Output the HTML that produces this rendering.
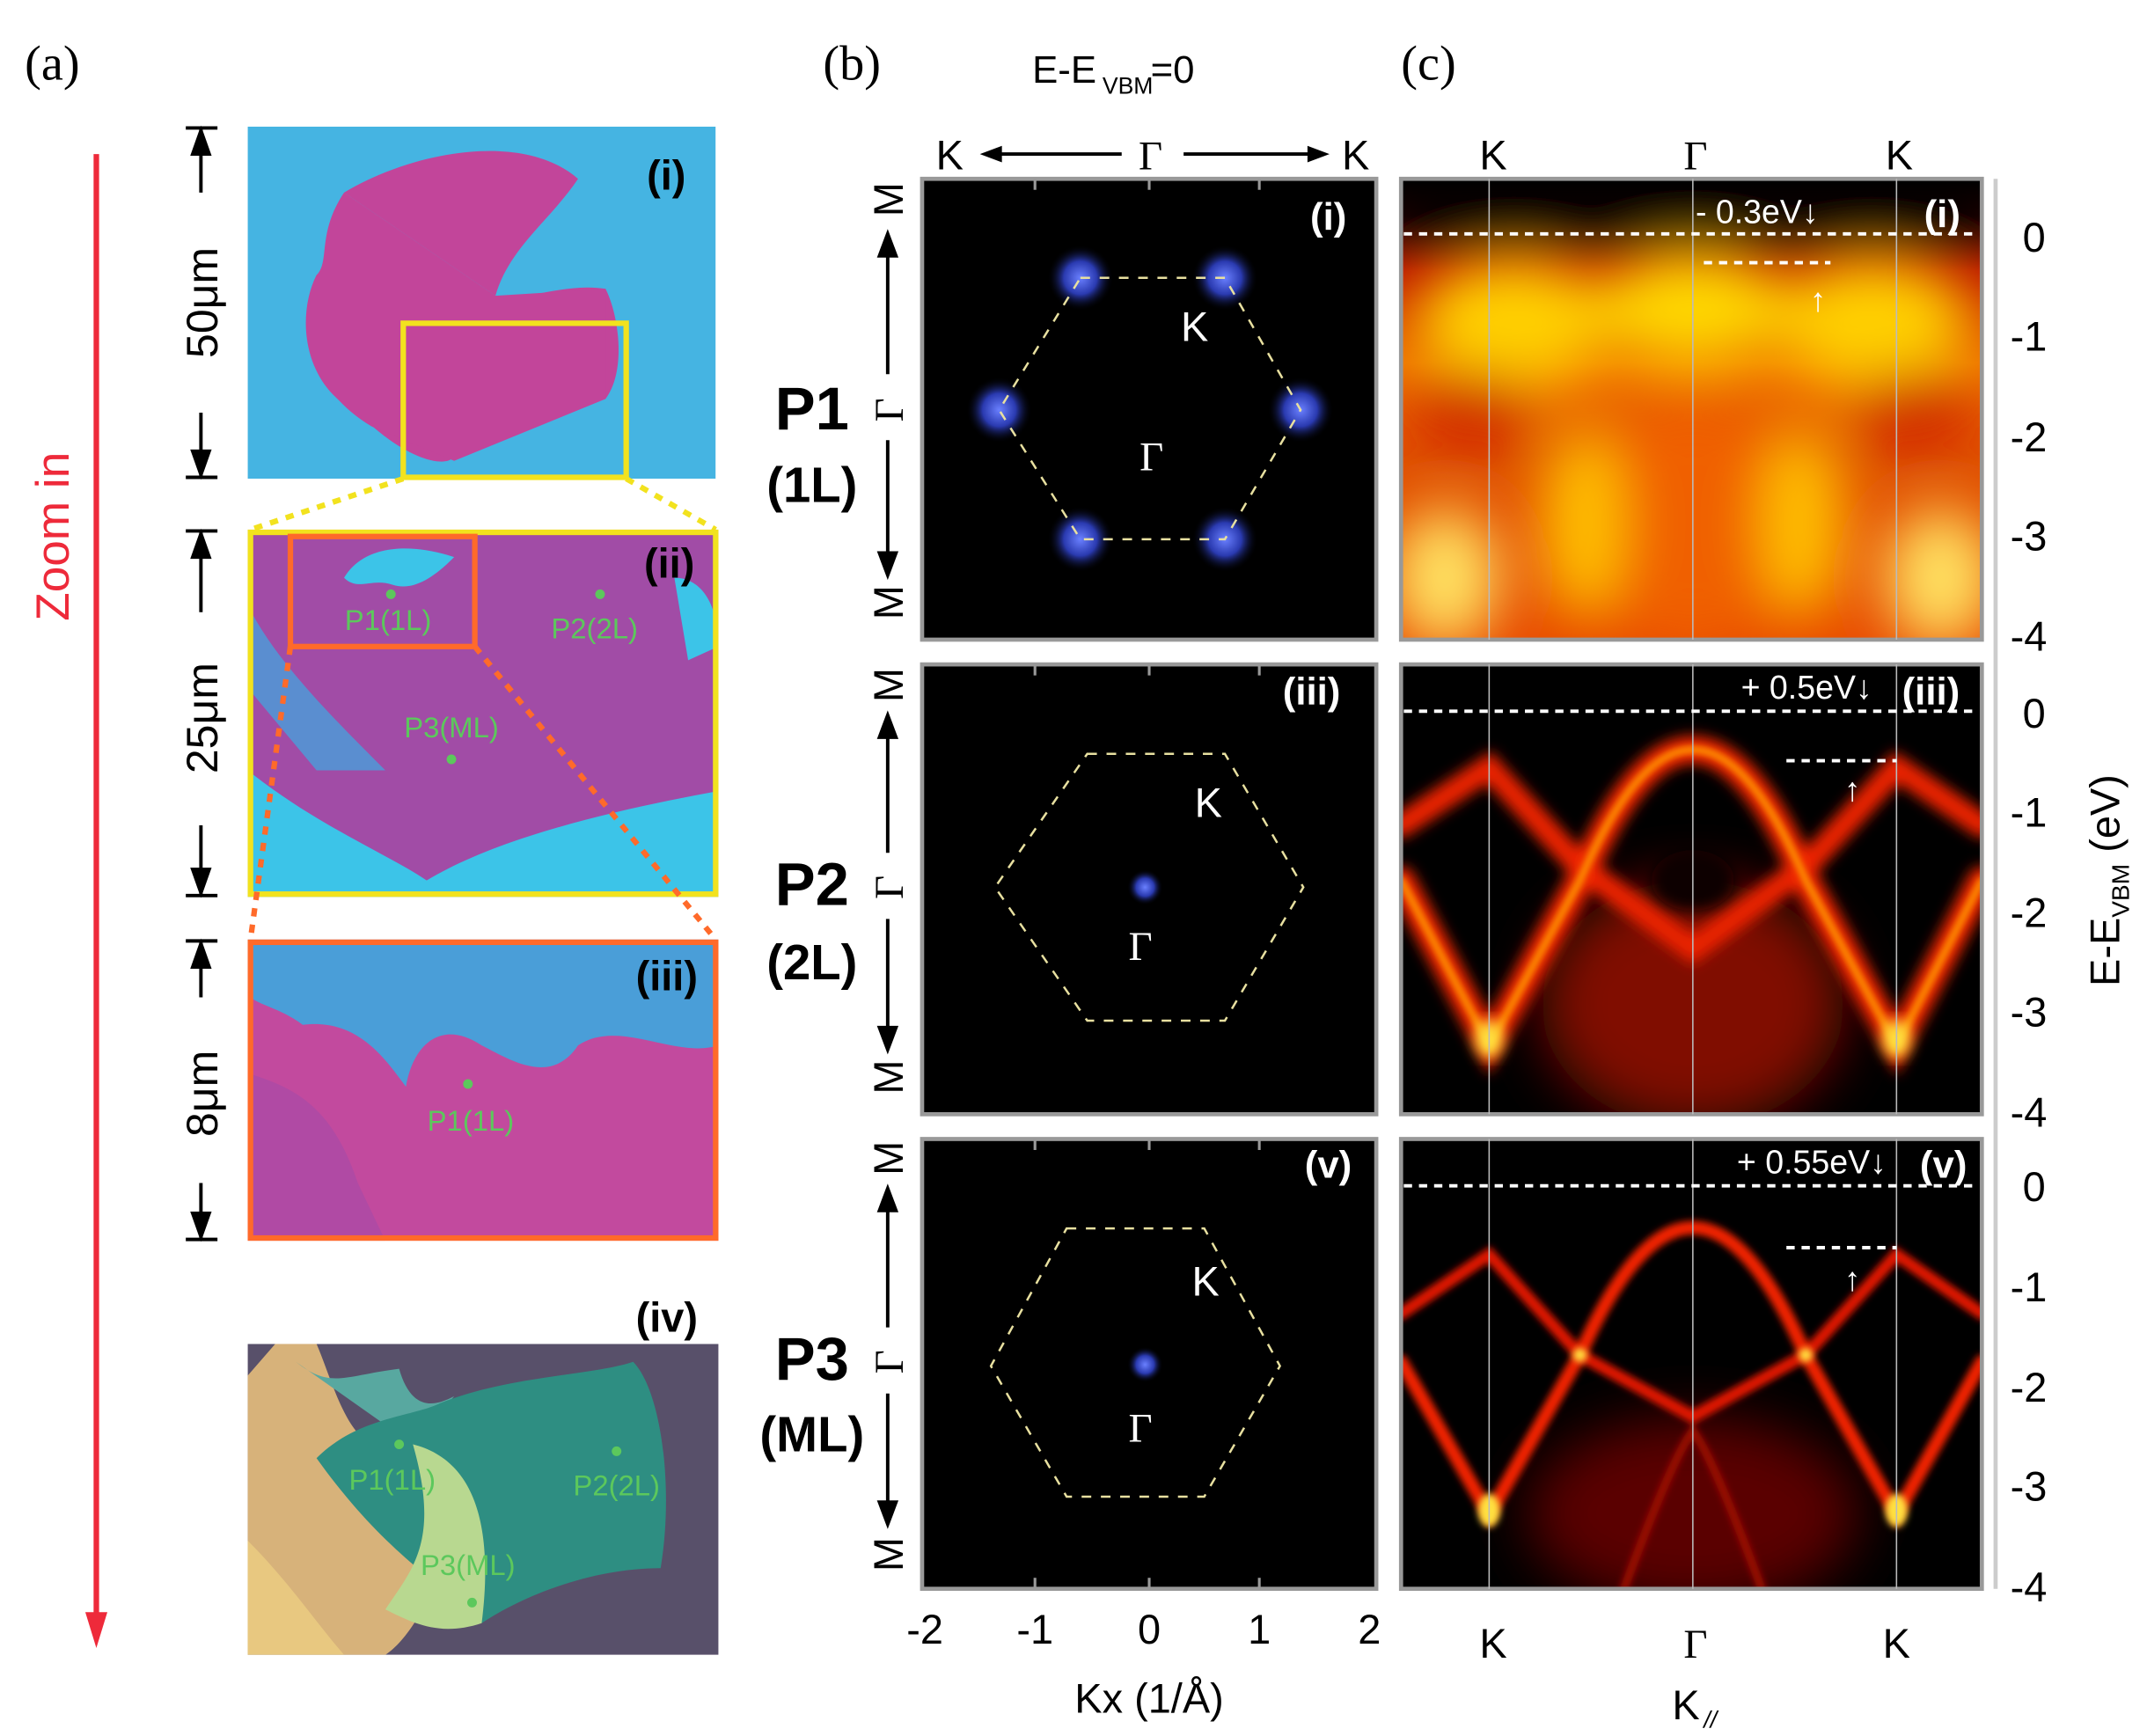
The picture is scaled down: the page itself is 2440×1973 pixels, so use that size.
<!DOCTYPE html>
<html><head><meta charset="utf-8"><style>
html,body{margin:0;padding:0;background:#fff;}
svg{display:block;font-family:"Liberation Sans",sans-serif;}
</style></head><body>
<svg width="2440" height="1973" viewBox="0 0 1560 1262" preserveAspectRatio="none" xmlns="http://www.w3.org/2000/svg">
<defs>
<filter id="b2" x="-20%" y="-20%" width="140%" height="140%"><feGaussianBlur stdDeviation="2.5"/></filter>
<filter id="b4" x="-20%" y="-20%" width="140%" height="140%"><feGaussianBlur stdDeviation="5"/></filter>
<filter id="b10" x="-30%" y="-30%" width="160%" height="160%"><feGaussianBlur stdDeviation="12"/></filter>
<filter id="b20" x="-30%" y="-30%" width="160%" height="160%"><feGaussianBlur stdDeviation="20"/></filter>
<radialGradient id="bd"><stop offset="0" stop-color="#6a80ff"/><stop offset="0.5" stop-color="#2a3ab0"/><stop offset="1" stop-color="#000" stop-opacity="0"/></radialGradient>
<linearGradient id="c1" x1="0" y1="0" x2="0" y2="1"><stop offset="0" stop-color="#000"/><stop offset="0.08" stop-color="#200"/><stop offset="0.2" stop-color="#c01800"/><stop offset="0.4" stop-color="#f07000"/><stop offset="0.6" stop-color="#e05000"/><stop offset="1" stop-color="#e84a00"/></linearGradient>
<clipPath id="cp1"><rect x="1018" y="130" width="422" height="335"/></clipPath>
<clipPath id="cp2"><rect x="1018" y="483" width="422" height="327"/></clipPath>
<clipPath id="cp3"><rect x="1018" y="828" width="422" height="327"/></clipPath>
<clipPath id="ci"><rect x="180" y="92" width="340" height="256"/></clipPath>
<clipPath id="cii"><rect x="180" y="385" width="342" height="267"/></clipPath>
<clipPath id="ciii"><rect x="180" y="683" width="342" height="219"/></clipPath>
<clipPath id="civ"><rect x="180" y="977" width="342" height="226"/></clipPath>
</defs>

<!-- (a) -->
<text x="18" y="58" font-family="Liberation Serif, serif" font-size="36">(a)</text>
<line x1="70" y1="112" x2="70" y2="1180" stroke="#ee2a3a" stroke-width="4"/>
<polygon points="62,1172 78,1172 70,1198" fill="#ee2a3a"/>
<text transform="translate(50,390) rotate(-90)" text-anchor="middle" font-size="34" fill="#ee2a3a">Zoom in</text>

<!-- scale bars -->
<g stroke="#000" stroke-width="2.5" fill="#000">
<line x1="135" y1="93" x2="158" y2="93"/><line x1="135" y1="347" x2="158" y2="347"/>
<line x1="146" y1="93" x2="146" y2="140"/><polygon points="140,112 152,112 146,95"/>
<line x1="146" y1="300" x2="146" y2="347"/><polygon points="140,328 152,328 146,345"/>
<line x1="135" y1="386" x2="158" y2="386"/><line x1="135" y1="651" x2="158" y2="651"/>
<line x1="146" y1="386" x2="146" y2="445"/><polygon points="140,405 152,405 146,388"/>
<line x1="146" y1="600" x2="146" y2="651"/><polygon points="140,632 152,632 146,649"/>
<line x1="135" y1="684" x2="158" y2="684"/><line x1="135" y1="901" x2="158" y2="901"/>
<line x1="146" y1="684" x2="146" y2="725"/><polygon points="140,703 152,703 146,686"/>
<line x1="146" y1="860" x2="146" y2="901"/><polygon points="140,882 152,882 146,899"/>
</g>
<text transform="translate(158,220) rotate(-90)" text-anchor="middle" font-size="32">50μm</text>
<text transform="translate(158,522) rotate(-90)" text-anchor="middle" font-size="32">25μm</text>
<text transform="translate(158,795) rotate(-90)" text-anchor="middle" font-size="32">8μm</text>

<!-- panel i -->
<g clip-path="url(#ci)">
<rect x="180" y="92" width="340" height="256" fill="#45b4e2"/>
<path d="M250,140 C300,110 380,95 420,130 C400,160 370,180 360,215 C345,230 310,215 300,240 C285,210 265,195 230,200 C215,230 220,280 260,300 C300,340 330,340 330,330 C360,320 400,300 440,290 C455,270 450,230 440,210 C410,205 380,220 360,215" fill="#c2459a"/>
<path d="M250,140 C230,170 240,190 230,200 C215,230 220,280 270,310 L330,335 L440,290 L440,210 L360,215 Z" fill="#c2459a"/>
</g>
<text x="470" y="138" font-size="30" font-weight="bold">(i)</text>
<rect x="293" y="235" width="162" height="112" fill="none" stroke="#f2e21e" stroke-width="4"/>
<g stroke="#f2e21e" stroke-width="4" stroke-dasharray="6,6"><line x1="293" y1="348" x2="182" y2="385"/><line x1="455" y1="348" x2="520" y2="385"/></g>

<!-- panel ii -->
<g clip-path="url(#cii)">
<rect x="180" y="385" width="342" height="267" fill="#a14ca6"/>
<path d="M180,560 C230,600 280,620 310,640 C360,610 440,590 522,575 L522,652 L180,652 Z" fill="#3cc4e8"/>
<path d="M180,440 C200,480 240,520 280,560 L230,560 L180,500Z" fill="#5a8ed0"/>
<path d="M250,420 C265,395 300,395 330,405 C315,420 300,430 285,425 C270,420 260,430 250,420Z" fill="#3cc4e8"/>
<path d="M490,420 C510,420 522,440 522,470 L500,480 Z" fill="#3cc4e8"/>
</g>
<rect x="182" y="387" width="338" height="263" fill="none" stroke="#f2e21e" stroke-width="4"/>
<rect x="211" y="390" width="134" height="80" fill="none" stroke="#ff6a2a" stroke-width="4"/>
<g fill="#5cc85c"><circle cx="284" cy="432" r="3.5"/><circle cx="436" cy="432" r="3.5"/><circle cx="328" cy="552" r="3.5"/></g>
<g fill="#5cc85c" font-size="21" text-anchor="middle"><text x="282" y="458">P1(1L)</text><text x="432" y="464">P2(2L)</text><text x="328" y="536">P3(ML)</text></g>
<text x="468" y="420" font-size="30" font-weight="bold">(ii)</text>
<g stroke="#ff6a2a" stroke-width="4" stroke-dasharray="6,6"><line x1="211" y1="470" x2="182" y2="683"/><line x1="345" y1="470" x2="520" y2="683"/></g>

<!-- panel iii -->
<g clip-path="url(#ciii)">
<rect x="180" y="683" width="342" height="219" fill="#c24a9e"/>
<path d="M180,683 L522,683 L522,760 C490,770 450,740 420,760 C400,790 370,770 350,760 C320,740 300,760 295,790 C280,770 260,740 220,745 C200,730 180,730 180,720Z" fill="#4a9ed8"/>
<path d="M180,780 C210,790 240,800 260,860 L280,902 L180,902Z" fill="#b04aa4"/>
</g>
<rect x="182" y="685" width="338" height="215" fill="none" stroke="#ff6a2a" stroke-width="4"/>
<circle cx="340" cy="788" r="3.5" fill="#5cc85c"/>
<text x="342" y="822" font-size="21" fill="#5cc85c" text-anchor="middle">P1(1L)</text>
<text x="462" y="720" font-size="30" font-weight="bold">(iii)</text>

<!-- panel iv -->
<text x="462" y="968" font-size="30" font-weight="bold">(iv)</text>
<g clip-path="url(#civ)">
<rect x="180" y="977" width="342" height="226" fill="#58506a"/>
<path d="M180,1000 L200,977 L230,977 C240,1000 250,1040 270,1050 C290,1070 310,1090 330,1110 C320,1150 300,1190 280,1203 L180,1203Z" fill="#d7b27a"/>
<path d="M215,990 C240,1010 250,1000 290,995 C300,1030 320,1020 330,1015 L300,1050Z" fill="#58a8a0"/>
<path d="M230,1060 C260,1030 300,1030 320,1020 C370,1000 430,1000 460,990 C480,1010 490,1080 480,1140 C430,1140 380,1160 350,1180 C320,1150 280,1130 230,1060Z" fill="#2e8e82"/>
<path d="M300,1050 C340,1060 360,1100 350,1180 C320,1190 300,1180 280,1170 C300,1140 320,1120 300,1050Z" fill="#b8d890"/>
<path d="M180,1120 C210,1150 230,1180 250,1203 L180,1203Z" fill="#e8c880"/>
</g>
<g fill="#5cc85c"><circle cx="290" cy="1050" r="3.5"/><circle cx="448" cy="1055" r="3.5"/><circle cx="343" cy="1165" r="3.5"/></g>
<g fill="#5cc85c" font-size="21" text-anchor="middle"><text x="285" y="1083">P1(1L)</text><text x="448" y="1087">P2(2L)</text><text x="340" y="1145">P3(ML)</text></g>

<!-- (b) -->
<text x="598" y="58" font-family="Liberation Serif, serif" font-size="36">(b)</text>
<text x="750" y="60" font-size="28">E-E</text><text x="801" y="68" font-size="17">VBM</text><text x="836" y="60" font-size="28">=0</text>
<text x="690" y="123" font-size="30" text-anchor="middle">K</text>
<text x="836" y="123" font-size="30" text-anchor="middle" font-family="Liberation Serif, serif">Γ</text>
<text x="985" y="123" font-size="30" text-anchor="middle">K</text>
<g stroke="#000" stroke-width="2.5"><line x1="718" y1="112" x2="815" y2="112"/><line x1="860" y1="112" x2="960" y2="112"/></g>
<polygon points="712,112 728,106 728,118" fill="#000"/><polygon points="966,112 950,106 950,118" fill="#000"/>

<g font-size="44" font-weight="bold" text-anchor="middle">
<text x="590" y="312">P1</text><text x="590" y="658">P2</text><text x="590" y="1003">P3</text></g>
<g font-size="36" font-weight="bold" text-anchor="middle">
<text x="590" y="365">(1L)</text><text x="590" y="712">(2L)</text><text x="590" y="1055">(ML)</text></g>

<!-- b side labels -->
<g font-size="30">
<text transform="translate(656,145) rotate(-90)" text-anchor="middle">M</text>
<text transform="translate(656,438) rotate(-90)" text-anchor="middle">M</text>
<text transform="translate(656,498) rotate(-90)" text-anchor="middle">M</text>
<text transform="translate(656,783) rotate(-90)" text-anchor="middle">M</text>
<text transform="translate(656,842) rotate(-90)" text-anchor="middle">M</text>
<text transform="translate(656,1130) rotate(-90)" text-anchor="middle">M</text>
</g>
<g font-size="30" font-family="Liberation Serif, serif">
<text transform="translate(656,298) rotate(-90)" text-anchor="middle">Γ</text>
<text transform="translate(656,645) rotate(-90)" text-anchor="middle">Γ</text>
<text transform="translate(656,990) rotate(-90)" text-anchor="middle">Γ</text>
</g>
<g stroke="#000" stroke-width="2.5" fill="#000">
<line x1="645" y1="178" x2="645" y2="272"/><polygon points="639,186 651,186 645,170"/>
<line x1="645" y1="320" x2="645" y2="410"/><polygon points="639,402 651,402 645,418"/>
<line x1="645" y1="528" x2="645" y2="620"/><polygon points="639,536 651,536 645,520"/>
<line x1="645" y1="668" x2="645" y2="755"/><polygon points="639,747 651,747 645,763"/>
<line x1="645" y1="872" x2="645" y2="965"/><polygon points="639,880 651,880 645,864"/>
<line x1="645" y1="1013" x2="645" y2="1100"/><polygon points="639,1092 651,1092 645,1108"/>
</g>

<!-- b panels -->
<g>
<rect x="670" y="130" width="330" height="335" fill="#000" stroke="#999" stroke-width="3"/>
<rect x="670" y="483" width="330" height="327" fill="#000" stroke="#999" stroke-width="3"/>
<rect x="670" y="828" width="330" height="327" fill="#000" stroke="#999" stroke-width="3"/>
</g>
<g fill="url(#bd)">
<circle cx="785" cy="202" r="24"/><circle cx="890" cy="202" r="24"/><circle cx="945" cy="298" r="24"/>
<circle cx="890" cy="392" r="24"/><circle cx="785" cy="392" r="24"/><circle cx="726" cy="298" r="24"/>
<circle cx="832" cy="645" r="13"/><circle cx="832" cy="992" r="13"/>
</g>
<g fill="none" stroke="#e8e0a0" stroke-width="1.6" stroke-dasharray="7,7">
<polygon points="785,202 890,202 945,298 890,392 785,392 726,298"/>
<polygon points="790,548 890,548 947,645 890,742 790,742 723,645"/>
<polygon points="775,893 875,893 930,993 875,1088 775,1088 720,993"/>
</g>
<g fill="#fff" font-size="30">
<text x="858" y="248">K</text><text x="828" y="342" font-family="Liberation Serif, serif">Γ</text>
<text x="868" y="594">K</text><text x="820" y="698" font-family="Liberation Serif, serif">Γ</text>
<text x="866" y="942">K</text><text x="820" y="1048" font-family="Liberation Serif, serif">Γ</text>
<g font-weight="bold" font-size="28"><text x="952" y="167">(i)</text><text x="932" y="512">(iii)</text><text x="948" y="856">(v)</text></g>
</g>
<!-- ticks b -->
<g stroke="#999" stroke-width="2">
<line x1="752" y1="130" x2="752" y2="138"/><line x1="835" y1="130" x2="835" y2="138"/><line x1="915" y1="130" x2="915" y2="138"/>
<line x1="752" y1="483" x2="752" y2="491"/><line x1="835" y1="483" x2="835" y2="491"/><line x1="915" y1="483" x2="915" y2="491"/>
<line x1="752" y1="828" x2="752" y2="836"/><line x1="835" y1="828" x2="835" y2="836"/><line x1="915" y1="828" x2="915" y2="836"/>
<line x1="752" y1="1147" x2="752" y2="1155"/><line x1="835" y1="1147" x2="835" y2="1155"/><line x1="915" y1="1147" x2="915" y2="1155"/>
</g>
<g font-size="30" text-anchor="middle">
<text x="672" y="1195">-2</text><text x="752" y="1195">-1</text><text x="835" y="1195">0</text><text x="915" y="1195">1</text><text x="995" y="1195">2</text>
<text x="835" y="1245">Kx (1/Å)</text>
</g>

<!-- (c) -->
<text x="1018" y="58" font-family="Liberation Serif, serif" font-size="36">(c)</text>
<g font-size="30" text-anchor="middle">
<text x="1085" y="123">K</text><text x="1232" y="123" font-family="Liberation Serif, serif">Γ</text><text x="1380" y="123">K</text>
<text x="1085" y="1205">K</text><text x="1232" y="1205" font-family="Liberation Serif, serif">Γ</text><text x="1378" y="1205">K</text>
<text x="1225" y="1250">K</text>
</g>
<text x="1238" y="1256" font-size="17" font-style="italic">//</text>

<!-- c(i) -->
<g clip-path="url(#cp1)">
<rect x="1018" y="130" width="422" height="335" fill="url(#c1)"/>
<g filter="url(#b20)">
<ellipse cx="1100" cy="235" rx="70" ry="45" fill="#ffd000"/>
<ellipse cx="1230" cy="225" rx="70" ry="40" fill="#ffd800"/>
<ellipse cx="1360" cy="235" rx="70" ry="45" fill="#ffd000"/>
<ellipse cx="1070" cy="300" rx="45" ry="30" fill="#d02800"/>
<ellipse cx="1390" cy="300" rx="45" ry="30" fill="#d02800"/>
<ellipse cx="1230" cy="380" rx="80" ry="90" fill="#f06000"/>
<ellipse cx="1050" cy="420" rx="40" ry="50" fill="#ffe060"/>
<ellipse cx="1410" cy="420" rx="40" ry="50" fill="#ffe060"/>
<ellipse cx="1150" cy="380" rx="30" ry="70" fill="#ffc000"/>
<ellipse cx="1310" cy="380" rx="30" ry="70" fill="#ffc000"/>
<rect x="1018" y="130" width="422" height="40" fill="#000"/>
</g>
</g>
<rect x="1018" y="130" width="422" height="335" fill="none" stroke="#999" stroke-width="3"/>

<!-- c(iii) -->
<g clip-path="url(#cp2)">
<rect x="1018" y="483" width="422" height="327" fill="#000"/>
<g filter="url(#b20)" fill="#800800"><ellipse cx="1230" cy="730" rx="110" ry="90"/></g>
<g fill="none" stroke-linecap="round" filter="url(#b4)">
<path d="M1018,600 L1082,558 L1148,630 L1230,690 L1312,630 L1378,558 L1440,600" stroke="#e82000" stroke-width="18"/>
<path d="M1018,640 L1082,760 L1148,640 Q1230,450 1312,640 L1378,760 L1440,640" stroke="#f02800" stroke-width="20"/>
</g>
<g fill="none" stroke-linecap="round" filter="url(#b2)">
<path d="M1018,640 L1082,760 L1148,640 Q1230,450 1312,640 L1378,760 L1440,640" stroke="#ff9a00" stroke-width="5"/>
</g>
<g filter="url(#b4)" fill="#ffe040"><ellipse cx="1082" cy="755" rx="10" ry="14"/><ellipse cx="1378" cy="755" rx="10" ry="14"/></g>
<ellipse cx="1230" cy="640" rx="30" ry="22" fill="#100" filter="url(#b4)"/>
</g>
<rect x="1018" y="483" width="422" height="327" fill="none" stroke="#999" stroke-width="3"/>

<!-- c(v) -->
<g clip-path="url(#cp3)">
<rect x="1018" y="828" width="422" height="327" fill="#000"/>
<g filter="url(#b20)" fill="#5a0400"><ellipse cx="1230" cy="1100" rx="120" ry="70"/></g>
<g fill="none" stroke-linecap="round" filter="url(#b2)">
<path d="M1018,955 L1082,912 L1148,985 L1230,1030 L1312,985 L1378,912 L1440,955" stroke="#e01800" stroke-width="9"/>
<path d="M1018,990 L1082,1101 L1148,985 Q1230,800 1312,985 L1378,1101 L1440,990" stroke="#f02200" stroke-width="10"/>
<path d="M1180,1155 Q1215,1060 1230,1040 Q1245,1060 1280,1155" stroke="#a00c00" stroke-width="6"/>
</g>
<g filter="url(#b2)" fill="#ffe040"><ellipse cx="1082" cy="1098" rx="8" ry="12"/><ellipse cx="1378" cy="1098" rx="8" ry="12"/><circle cx="1148" cy="985" r="5"/><circle cx="1312" cy="985" r="5"/></g>
</g>
<rect x="1018" y="828" width="422" height="327" fill="none" stroke="#999" stroke-width="3"/>

<!-- vertical guide lines -->
<g stroke="#bbb" stroke-width="1">
<line x1="1082" y1="130" x2="1082" y2="465"/><line x1="1230" y1="130" x2="1230" y2="465"/><line x1="1378" y1="130" x2="1378" y2="465"/>
<line x1="1082" y1="483" x2="1082" y2="810"/><line x1="1230" y1="483" x2="1230" y2="810"/><line x1="1378" y1="483" x2="1378" y2="810"/>
<line x1="1082" y1="828" x2="1082" y2="1155"/><line x1="1230" y1="828" x2="1230" y2="1155"/><line x1="1378" y1="828" x2="1378" y2="1155"/>
</g>
<!-- dashed energy lines -->
<g stroke="#fff" stroke-width="2.5" stroke-dasharray="6,5">
<line x1="1020" y1="170" x2="1438" y2="170"/><line x1="1238" y1="191" x2="1330" y2="191"/>
<line x1="1020" y1="517" x2="1438" y2="517"/><line x1="1298" y1="553" x2="1378" y2="553"/>
<line x1="1020" y1="862" x2="1438" y2="862"/><line x1="1298" y1="907" x2="1378" y2="907"/>
</g>
<g fill="#fff" font-size="24">
<text x="1232" y="162">- 0.3eV↓</text><text x="1265" y="508">+ 0.5eV↓</text><text x="1262" y="853">+ 0.55eV↓</text>
<text x="1315" y="226">↑</text><text x="1340" y="582">↑</text><text x="1340" y="938">↑</text>
<g font-weight="bold" font-size="28"><text x="1398" y="165">(i)</text><text x="1382" y="512">(iii)</text><text x="1395" y="856">(v)</text></g>
</g>

<!-- right axis -->
<line x1="1450" y1="130" x2="1450" y2="1155" stroke="#ccc" stroke-width="3"/>
<g font-size="30" text-anchor="middle">
<text x="1478" y="183">0</text><text x="1474" y="255">-1</text><text x="1474" y="328">-2</text><text x="1474" y="400">-3</text><text x="1474" y="473">-4</text>
<text x="1478" y="529">0</text><text x="1474" y="601">-1</text><text x="1474" y="674">-2</text><text x="1474" y="746">-3</text><text x="1474" y="819">-4</text>
<text x="1478" y="873">0</text><text x="1474" y="946">-1</text><text x="1474" y="1019">-2</text><text x="1474" y="1091">-3</text><text x="1474" y="1164">-4</text>
</g>
<text transform="translate(1540,640) rotate(-90)" text-anchor="middle" font-size="30">E-E<tspan font-size="18" dy="7">VBM</tspan><tspan dy="-7"> (eV)</tspan></text>
</svg>
</body></html>
